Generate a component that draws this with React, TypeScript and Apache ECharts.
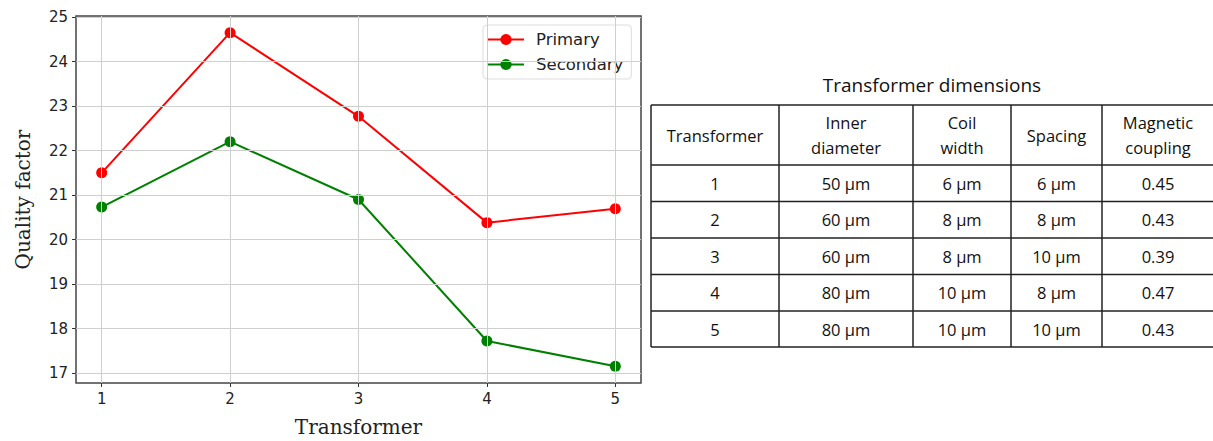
import React, { useEffect, useRef } from "react";
import * as echarts from "echarts";

// ---- chart data ----
const transformers = [1, 2, 3, 4, 5];
const primaryQ = [21.5, 24.65, 22.77, 20.38, 20.69];
const secondaryQ = [20.73, 22.2, 20.9, 17.72, 17.15];
const yTicks = [17, 18, 19, 20, 21, 22, 23, 24, 25];
const xTicks = [1, 2, 3, 4, 5];

// ---- table data ----
const tableTitle = "Transformer dimensions";
const tableHeaders = ["Transformer", "Inner\ndiameter", "Coil\nwidth", "Spacing", "Magnetic\ncoupling"];
const colTransformer = ["1", "2", "3", "4", "5"];
const colInnerDiameter = ["50 µm", "60 µm", "60 µm", "80 µm", "80 µm"];
const colCoilWidth = ["6 µm", "8 µm", "8 µm", "10 µm", "10 µm"];
const colSpacing = ["6 µm", "8 µm", "10 µm", "8 µm", "10 µm"];
const colCoupling = ["0.45", "0.43", "0.39", "0.47", "0.43"];

export default function App() {
  const ref = useRef<HTMLDivElement>(null);

  useEffect(() => {
    if (!ref.current) return;
    const chart = echarts.init(ref.current, null, { renderer: "svg" });

    // table layout
    const colX = [651, 779, 913, 1011, 1102, 1214];
    const rowY = [105, 165, 201.5, 238, 274.5, 311, 347];
    const columns = [colTransformer, colInnerDiameter, colCoilWidth, colSpacing, colCoupling];
    const tableFont = "'Open Sans', 'Noto Sans', sans-serif";
    const lineStyle = { stroke: "#222", lineWidth: 1.5 };
    const graphics: any[] = [];
    graphics.push({
      type: "text",
      x: 932,
      y: 85,
      style: {
        text: tableTitle,
        align: "center",
        verticalAlign: "middle",
        fontSize: 19,
        fontFamily: tableFont,
        fill: "#111",
      },
    });
    rowY.forEach((y) => {
      graphics.push({ type: "line", shape: { x1: colX[0], y1: y, x2: colX[colX.length - 1], y2: y }, style: lineStyle });
    });
    colX.forEach((x) => {
      graphics.push({ type: "line", shape: { x1: x, y1: rowY[0], x2: x, y2: rowY[rowY.length - 1] }, style: lineStyle });
    });
    tableHeaders.forEach((h, i) => {
      graphics.push({
        type: "text",
        x: (colX[i] + colX[i + 1]) / 2,
        y: (rowY[0] + rowY[1]) / 2,
        style: {
          text: h,
          align: "center",
          verticalAlign: "middle",
          fontSize: 16.5,
          lineHeight: 25,
          fontFamily: tableFont,
          fill: "#111",
        },
      });
    });
    columns.forEach((col, i) => {
      col.forEach((v, r) => {
        graphics.push({
          type: "text",
          x: (colX[i] + colX[i + 1]) / 2,
          y: (rowY[r + 1] + rowY[r + 2]) / 2,
          style: {
            text: v,
            align: "center",
            verticalAlign: "middle",
            fontSize: 16.5,
            fontFamily: tableFont,
            fill: "#111",
          },
        });
      });
    });

    const tickFont = { fontFamily: "'DejaVu Sans', sans-serif", fontSize: 15, color: "#222" };
    const nameFont = { fontFamily: "'DejaVu Serif', serif", fontSize: 20, color: "#222" };

    chart.setOption({
      animation: false,
      grid: {
        left: 76,
        top: 16,
        right: 1213 - 641,
        bottom: 441 - 383,
        outerBoundsMode: "none",
        containLabel: false,
        show: true,
        borderColor: "#444",
        borderWidth: 1.5,
        backgroundColor: "transparent",
      },
      legend: {
        data: ["Primary", "Secondary"],
        orient: "vertical",
        left: 483,
        top: 25,
        padding: [6, 8, 6, 4],
        itemGap: 8,
        itemWidth: 36,
        itemHeight: 14,
        borderColor: "#ddd",
        borderWidth: 1,
        borderRadius: 4,
        backgroundColor: "rgba(255,255,255,0.85)",
        textStyle: { fontFamily: "'DejaVu Sans', sans-serif", fontSize: 16.5, color: "#222", padding: [0, 0, 0, 7] },
      },
      xAxis: {
        type: "value",
        min: 0.8,
        max: 5.2,
        name: "Transformer",
        nameLocation: "middle",
        nameGap: 34,
        nameTextStyle: nameFont,
        axisLine: { show: false },
        axisTick: { show: true, customValues: xTicks, length: 4, lineStyle: { color: "#333", width: 1 } },
        axisLabel: { customValues: xTicks, margin: 8, ...tickFont },
        splitLine: { show: false },
      },
      yAxis: {
        type: "value",
        min: 16.775,
        max: 25.025,
        name: "Quality factor",
        nameLocation: "middle",
        nameGap: 43,
        nameTextStyle: nameFont,
        axisLine: { show: false },
        axisTick: { show: true, customValues: yTicks, length: 4, lineStyle: { color: "#333", width: 1 } },
        axisLabel: { customValues: yTicks, margin: 8, ...tickFont },
        splitLine: { show: false },
      },
      series: [
        {
          name: "gridlines",
          type: "line",
          data: [],
          z: 1,
          silent: true,
          markLine: {
            silent: true,
            symbol: ["none", "none"],
            label: { show: false },
            lineStyle: { color: "#cfcfcf", width: 1, type: "solid" },
            data: [...xTicks.map((v) => ({ xAxis: v })), ...yTicks.map((v) => ({ yAxis: v }))],
          },
        },
        {
          name: "Primary",
          type: "line",
          z: 3,
          data: transformers.map((t, i) => [t, primaryQ[i]]),
          symbol: "circle",
          symbolSize: 11,
          itemStyle: { color: "#ff0000" },
          lineStyle: { color: "#ff0000", width: 2 },
        },
        {
          name: "Secondary",
          type: "line",
          z: 3,
          data: transformers.map((t, i) => [t, secondaryQ[i]]),
          symbol: "circle",
          symbolSize: 11,
          itemStyle: { color: "#008000" },
          lineStyle: { color: "#008000", width: 2 },
        },
      ],
      graphic: graphics,
    });

    return () => chart.dispose();
  }, []);

  return (
    <div
      ref={ref}
      style={{ position: "fixed", left: 0, top: 0, width: 1213, height: 441, background: "#fff" }}
    />
  );
}
